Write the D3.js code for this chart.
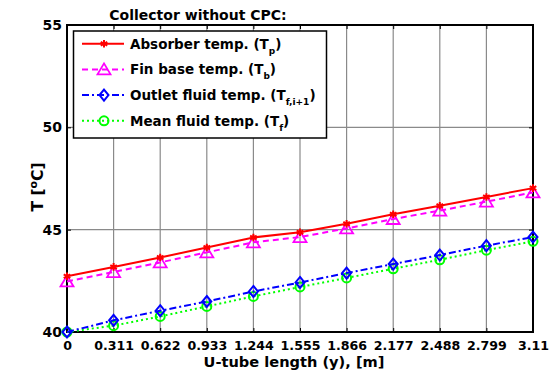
<!DOCTYPE html>
<html><head><meta charset="utf-8">
<script src="https://cdn.jsdelivr.net/npm/d3@7"></script>
<style>body{margin:0;background:#fff}svg{display:block}text{font-family:"DejaVu Sans",sans-serif;font-weight:bold;fill:#000}</style>
</head><body><svg id="c" width="554" height="373"></svg>
<script>
const xValues = [0, 0.311, 0.622, 0.933, 1.244, 1.555, 1.866, 2.177, 2.488, 2.799, 3.11];
const xTickLabels = ["0","0.311","0.622","0.933","1.244","1.555","1.866","2.177","2.488","2.799","3.11"];
const yTicks = [40, 45, 50, 55];
const absorberTemp = [42.72, 43.18, 43.64, 44.13, 44.62, 44.87, 45.29, 45.75, 46.17, 46.6, 47.03];
const finBaseTemp = [42.47, 42.93, 43.4, 43.89, 44.38, 44.64, 45.06, 45.52, 45.93, 46.37, 46.82];
const outletFluidTemp = [40.0, 40.57, 41.04, 41.49, 41.98, 42.42, 42.88, 43.32, 43.76, 44.22, 44.64];
const meanFluidTemp = [40.0, 40.31, 40.76, 41.25, 41.74, 42.2, 42.64, 43.09, 43.53, 44.0, 44.43];
const legendNames = ["Absorber temp. (T", "Fin base temp. (T", "Outlet fluid temp. (T", "Mean fluid temp. (T"];
const legendSubs = ["p", "b", "f,i+1", "f"];

const svg = d3.select("#c");
const L = 67, R = 533, T = 25, B = 332;
const x = d3.scaleLinear().domain([0, 3.11]).range([L, R]);
const y = d3.scaleLinear().domain([40, 55]).range([B, T]);

// grid
const g = svg.append("g");
g.selectAll(".gx").data(xValues.slice(1, -1)).enter().append("line")
  .attr("x1", d => x(d)).attr("x2", d => x(d)).attr("y1", T).attr("y2", B)
  .attr("stroke", "#8a8a8a").attr("stroke-width", 1.2);
g.selectAll(".gy").data([45, 50]).enter().append("line")
  .attr("x1", L).attr("x2", R).attr("y1", d => y(d)).attr("y2", d => y(d))
  .attr("stroke", "#8a8a8a").attr("stroke-width", 1.2);

// axes
const xAxis = d3.axisBottom(x).tickValues(xValues).tickFormat((d, i) => xTickLabels[i]).tickSizeInner(-4).tickSizeOuter(0).tickPadding(9);
const xa = svg.append("g").attr("transform", `translate(0,${B})`).call(xAxis);
const yAxis = d3.axisLeft(y).tickValues(yTicks).tickFormat(d3.format("d")).tickSizeInner(-4).tickSizeOuter(0).tickPadding(5);
const ya = svg.append("g").attr("transform", `translate(${L},0)`).call(yAxis);
const xt = svg.append("g").attr("transform", `translate(0,${T})`).call(d3.axisTop(x).tickValues(xValues).tickFormat("").tickSizeInner(-4).tickSizeOuter(0));
const yr = svg.append("g").attr("transform", `translate(${R},0)`).call(d3.axisRight(y).tickValues(yTicks).tickFormat("").tickSizeInner(-4).tickSizeOuter(0));
[xa, ya, xt, yr].forEach(a => { a.select(".domain").remove(); a.selectAll("line").attr("stroke", "#000"); a.selectAll("text").style("font-family", '"DejaVu Sans",sans-serif').style("font-weight", "bold").attr("fill", "#000"); });
xa.selectAll("text").style("font-size", "12.6px");
ya.selectAll("text").style("font-size", "14px");
svg.append("rect").attr("x", L).attr("y", T).attr("width", R - L).attr("height", B - T)
  .attr("fill", "none").attr("stroke", "#000").attr("stroke-width", 2);

// series
const series = [
  {v: absorberTemp, c: "#ff0000", dash: null, m: "star"},
  {v: finBaseTemp, c: "#ff00ff", dash: "6,4", m: "tri"},
  {v: outletFluidTemp, c: "#0000ff", dash: "7,3,2,3", m: "dia"},
  {v: meanFluidTemp, c: "#00ff00", dash: "2,3", m: "circ"}
];
const line = d3.line().x((d, i) => x(xValues[i])).y(d => y(d));
function marker(sel, type, c, cx, cy) {
  const gg = sel.append("g").attr("transform", `translate(${cx},${cy})`);
  if (type === "star") {
    gg.append("path").attr("d", d3.symbol(d3.symbolAsterisk, 40)()).attr("stroke", c).attr("stroke-width", 2).attr("fill", "none");
    gg.append("circle").attr("r", 2).attr("fill", c);
  } else if (type === "tri") {
    gg.append("path").attr("d", "M0,-6L6.5,5L-6.5,5Z").attr("stroke", c).attr("stroke-width", 1.8).attr("fill", "none");
  } else if (type === "dia") {
    gg.append("path").attr("d", "M0,-5.5L4.5,0L0,5.5L-4.5,0Z").attr("stroke", c).attr("stroke-width", 2).attr("fill", "none");
  } else {
    gg.append("circle").attr("r", 4.5).attr("stroke", c).attr("stroke-width", 2).attr("fill", "none");
  }
}
series.slice().reverse().forEach(s => {
  svg.append("path").datum(s.v).attr("d", line).attr("fill", "none").attr("stroke", s.c)
    .attr("stroke-width", 2).attr("stroke-dasharray", s.dash);
  s.v.forEach((d, i) => marker(svg, s.m, s.c, x(xValues[i]), y(d)));
});

// legend
const lg = svg.append("g");
lg.append("rect").attr("x", 73.5).attr("y", 31).attr("width", 253).attr("height", 107)
  .attr("fill", "#fff").attr("stroke", "#000").attr("stroke-width", 1.5);
series.forEach((s, i) => {
  const cy = 43.7 + i * 25.7;
  lg.append("line").attr("x1", 82).attr("x2", 124).attr("y1", cy).attr("y2", cy)
    .attr("stroke", s.c).attr("stroke-width", 2).attr("stroke-dasharray", s.dash);
  marker(lg, s.m, s.c, 104, cy);
  const t = lg.append("text").attr("x", 130).attr("y", cy + 5).style("font-size", "13.5px");
  t.append("tspan").text(legendNames[i]);
  t.append("tspan").attr("dy", 5).style("font-size", "9px").text(legendSubs[i]);
  t.append("tspan").attr("dy", -5).text(")");
});

// title and labels
svg.append("text").attr("x", 198).attr("y", 19.5).attr("text-anchor", "middle").style("font-size", "14px").text("Collector without CPC:");
svg.append("text").attr("x", 294).attr("y", 367).attr("text-anchor", "middle").style("font-size", "14.6px").text("U-tube length (y), [m]");
const yl = svg.append("text").attr("transform", "translate(43,187) rotate(-90)").attr("text-anchor", "middle").style("font-size", "15.5px");
yl.append("tspan").text("T [");
yl.append("tspan").attr("dy", -6).style("font-size", "11px").text("o");
yl.append("tspan").attr("dy", 6).text("C]");
</script></body></html>
